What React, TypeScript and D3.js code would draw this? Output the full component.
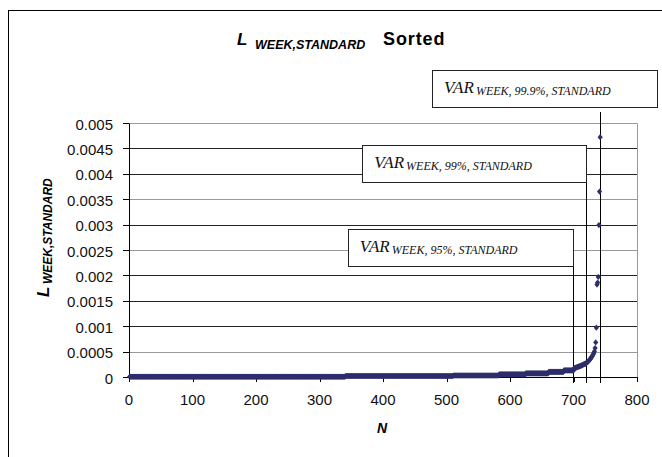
import * as React from "react";
import { scaleLinear } from "d3";

const levelValues = [0.000005, 0.00002, 0.00003, 0.00005, 0.00007, 0.0001, 0.00013];
const levelCounts = [340, 170, 72, 42, 36, 24, 16];
// the tail, N = 701 .. 742
const tailValues = [
  0.000172, 0.000176, 0.00018, 0.000184, 0.000189, 0.000193, 0.000198,
  0.000203, 0.000208, 0.000213, 0.000218, 0.000223, 0.000229, 0.000235,
  0.000241, 0.000247, 0.000253, 0.000259, 0.000265, 0.000272, 0.000282,
  0.000293, 0.000305, 0.000318, 0.000332, 0.000348, 0.000365, 0.000383,
  0.000402, 0.000422, 0.000445, 0.00047, 0.000505, 0.00057, 0.00068,
  0.00097, 0.00182, 0.00186, 0.00197, 0.00299, 0.00365, 0.00472,
];

const xTicks = [0, 100, 200, 300, 400, 500, 600, 700, 800];
const yTicks = [0, 0.0005, 0.001, 0.0015, 0.002, 0.0025, 0.003, 0.0035, 0.004, 0.0045, 0.005];
const yTickLabels = ["0", "0.0005", "0.001", "0.0015", "0.002", "0.0025", "0.003", "0.0035", "0.004", "0.0045", "0.005"];

const varLabels = ["95%", "99%", "99.9%"];
const varN = [699, 720, 742];

const W = 662;
const H = 457;
const sans = "'Liberation Sans', Arial, sans-serif";
const serif = "'Liberation Serif', 'Times New Roman', serif";
const navy = "#2e2e6c";
// grid lines in the scan come out alternately light and dark
const gridShade = ["#000", "#999", "#222", "#222", "#222", "#999", "#222", "#999", "#222", "#222", "#999"];

const series: number[] = levelValues
  .flatMap((v, i) => new Array(levelCounts[i]).fill(v))
  .concat(tailValues);

const Diamond = ({ cx, cy }: { cx: number; cy: number }) => (
  <path d={`M${cx},${cy - 3.1}L${cx + 2.6},${cy}L${cx},${cy + 3.1}L${cx - 2.6},${cy}Z`} fill={navy} />
);

export default function App() {
  const x = scaleLinear().domain([0, 800]).range([129, 637]);
  const y = scaleLinear().domain([0, 0.005]).range([377, 123]);
  const crisp = (v: number) => Math.round(v) + 0.5;

  // box layout for the three VaR call-outs
  const boxes = [
    { left: x(varN[0]) - 225, top: 229, w: 225, lineTop: 229 },
    { left: x(varN[1]) - 224, top: 145, w: 224, lineTop: 145 },
    { left: 432, top: 70, w: 225, lineTop: 112 },
  ];

  return (
    <svg width={W} height={H} style={{ position: "absolute", left: 0, top: 0, background: "#fff" }}>
      <rect x={8.5} y={10.5} width={700} height={500} fill="none" stroke="#000" />

      {/* title */}
      <text y={44.5} fontFamily={sans} fontWeight="bold" fill="#000">
        <tspan x={237} fontSize={17} fontStyle="italic">L</tspan>
        <tspan x={255} dy={4.5} fontSize={12.5} fontStyle="italic">WEEK,STANDARD</tspan>
        <tspan x={383} dy={-4.5} fontSize={18} letterSpacing={0.9}>Sorted</tspan>
      </text>

      {/* grid */}
      {yTicks.slice(1).map((t, i) => (
        <line key={t} x1={129} x2={637} y1={crisp(y(t))} y2={crisp(y(t))} stroke={gridShade[i + 1]} />
      ))}
      <line x1={crisp(637)} x2={crisp(637)} y1={crisp(y(0.005))} y2={crisp(y(0))} stroke="#999" />

      {/* axes */}
      <line x1={crisp(129)} x2={crisp(129)} y1={crisp(y(0.005))} y2={crisp(y(0))} stroke="#000" />
      <line x1={129} x2={637} y1={crisp(y(0))} y2={crisp(y(0))} stroke="#000" />
      {yTicks.map((t, i) => (
        <g key={t}>
          <line x1={123} x2={129} y1={crisp(y(t))} y2={crisp(y(t))} stroke="#000" />
          <text x={113} y={y(t) + 6.5} textAnchor="end" fontFamily={sans} fontSize={15} fill="#111">
            {yTickLabels[i]}
          </text>
        </g>
      ))}
      {xTicks.map((t) => (
        <g key={t}>
          <line x1={crisp(x(t))} x2={crisp(x(t))} y1={377} y2={382} stroke="#000" />
          <text x={x(t)} y={405} textAnchor="middle" fontFamily={sans} fontSize={15} fill="#111">
            {t}
          </text>
        </g>
      ))}

      <text x={382} y={433} textAnchor="middle" fontFamily={sans} fontSize={14} fontWeight="bold" fontStyle="italic">
        N
      </text>
      <text transform="translate(48.5,297) rotate(-90)" fontFamily={sans} fontWeight="bold" fontStyle="italic">
        <tspan x={0} fontSize={17}>L</tspan>
        <tspan x={13} dy={3} fontSize={12}>WEEK,STANDARD</tspan>
      </text>

      {/* VaR lines and boxes */}
      {varN.map((n, i) => {
        const b = boxes[i];
        const lx = crisp(x(n));
        return (
          <g key={n}>
            <line x1={lx} x2={lx} y1={b.lineTop} y2={383} stroke="#000" />
            <rect x={crisp(b.left)} y={b.top + 0.5} width={Math.round(b.w)} height={37} fill="#fff" stroke="#222" />
            <text x={b.left + 12} y={b.top + 23} fontFamily={serif} fontStyle="italic" fill="#111">
              <tspan fontSize={17}>VAR</tspan>
              <tspan dx={2} dy={2} fontSize={12}>{`WEEK, ${varLabels[i]}, STANDARD`}</tspan>
            </text>
          </g>
        );
      })}

      {/* points */}
      {series.map((v, i) => (
        <Diamond key={i} cx={x(i + 1)} cy={y(v)} />
      ))}
    </svg>
  );
}
